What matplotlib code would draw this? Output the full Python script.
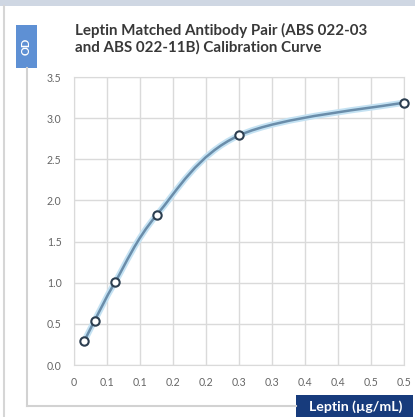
import numpy as np
import matplotlib
matplotlib.use('Agg')
import matplotlib.pyplot as plt
from matplotlib.path import Path
from matplotlib.patches import PathPatch, Rectangle
from matplotlib.lines import Line2D

# data
leptin = [0.015625, 0.03125, 0.0625, 0.125, 0.25, 0.5]
od = [0.29, 0.54, 1.01, 1.82, 2.79, 3.19]

xticks = [0, 0.05, 0.1, 0.15, 0.2, 0.25, 0.3, 0.35, 0.4, 0.45, 0.5]
xticklabels = ['0', '0.1', '0.1', '0.2', '0.2', '0.3', '0.3', '0.4', '0.4', '0.5', '0.5']
yticks = [0.0, 0.5, 1.0, 1.5, 2.0, 2.5, 3.0, 3.5]

title = 'Leptin Matched Antibody Pair (ABS 022-03\nand ABS 022-11B) Calibration Curve'
xlabel = 'Leptin (µg/mL)'
ylabel = 'OD'

plt.rcParams['font.family'] = ['Lato', 'DejaVu Sans']

W, H = 415, 417
fig = plt.figure(figsize=(W / 100, H / 100), dpi=100)
fig.patch.set_facecolor('white')

def fx(px):
    return px / W

def fy(py):
    return 1 - py / H

# frame decorations
fig.patches.append(Rectangle((0, fy(6)), 1, 6 / H, transform=fig.transFigure,
                             facecolor='#cfd7e3', edgecolor='none'))
fig.lines.append(Line2D([fx(4), fx(4)], [fy(6), 0], transform=fig.transFigure,
                        color='#d6d6d6', lw=1.5))
fig.lines.append(Line2D([fx(27), fx(27)], [fy(68), fy(406)], transform=fig.transFigure,
                        color='#d2d2d2', lw=1.5))
fig.lines.append(Line2D([fx(27), fx(296)], [fy(406), fy(406)], transform=fig.transFigure,
                        color='#d2d2d2', lw=1.5))

# OD box
fig.patches.append(Rectangle((fx(16), fy(68)), 21 / W, 43 / H, transform=fig.transFigure,
                             facecolor='#5e90d4', edgecolor='none'))
fig.text(fx(26.5), fy(46.5), ylabel, rotation=90, color='white', fontsize=8,
         fontweight='bold', ha='center', va='center')

# x label box
fig.patches.append(Rectangle((fx(296), 0), 117 / W, 22 / H, transform=fig.transFigure,
                             facecolor='#173b7c', edgecolor='none'))
fig.text(fx(356), fy(406.5), xlabel, color='white', fontsize=10.2, fontweight='bold',
         ha='center', va='center')

fig.text(fx(75), fy(23), title, color='#383838', fontsize=10.9, fontweight='bold',
         ha='left', va='top', linespacing=1.2)

ax = fig.add_axes([fx(74), fy(365), (404 - 74) / W, (365 - 77) / H])
ax.set_xlim(0, 0.5)
ax.set_ylim(0, 3.5)
ax.set_xticks(xticks)
ax.set_xticklabels(xticklabels)
ax.set_yticks(yticks)
ax.set_yticklabels([f'{v:.1f}' for v in yticks])
ax.tick_params(length=0, labelsize=7.6, colors='#666666', pad=9)
ax.grid(True, color='#dadada', lw=1)
for s in ax.spines.values():
    s.set_color('#dadada')
ax.set_axisbelow(True)

# smoothed line (bezier segments through the points, like a spreadsheet smooth line)
pts = np.column_stack([leptin, od])
verts = [pts[0]]
codes = [Path.MOVETO]
n = len(pts)
for i in range(n - 1):
    p0 = pts[i - 1] if i > 0 else pts[i]
    p1 = pts[i]
    p2 = pts[i + 1]
    p3 = pts[i + 2] if i + 2 < n else pts[i + 1]
    c1 = p1 + (p2 - p0) / 6
    c2 = p2 - (p3 - p1) / 6
    verts += [c1, c2, p2]
    codes += [Path.CURVE4] * 3
path = Path(verts, codes)
ax.add_patch(PathPatch(path, facecolor='none', edgecolor='#c4e2f3', lw=4.5, zorder=3))
ax.add_patch(PathPatch(path, facecolor='none', edgecolor='#6a8daa', lw=1.8, zorder=4))

ax.plot(leptin, od, 'o', ms=6, mfc='white', mec='#2c3e50', mew=1.5, zorder=5,
        clip_on=False)

fig.savefig('out.png', dpi=100)
